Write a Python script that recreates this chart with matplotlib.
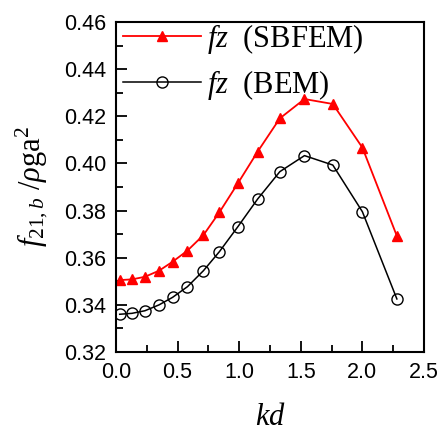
import matplotlib
matplotlib.use("Agg")
import matplotlib.pyplot as plt
from matplotlib.ticker import MultipleLocator, FormatStrFormatter

plt.rcParams['font.family'] = ['Liberation Sans', 'DejaVu Sans']
plt.rcParams['mathtext.fontset'] = 'custom'
plt.rcParams['mathtext.rm'] = 'Liberation Serif'
plt.rcParams['mathtext.it'] = 'Liberation Serif:italic'

kd = [0.03, 0.13, 0.235, 0.35, 0.46, 0.58, 0.71, 0.84, 0.99, 1.15, 1.33, 1.53, 1.76, 2.0, 2.28]
sbfem = [0.3505, 0.3508, 0.3519, 0.3545, 0.3583, 0.363, 0.3696, 0.3793, 0.3916,
         0.405, 0.4191, 0.4273, 0.4252, 0.4067, 0.3692]
bem = [0.336, 0.3364, 0.3375, 0.340, 0.3432, 0.3477, 0.3545, 0.3626, 0.3732,
       0.3849, 0.3965, 0.4033, 0.3993, 0.3795, 0.3425]

fig = plt.figure(figsize=(4.4, 4.32), dpi=100)
ax = fig.add_axes([0.2636, 0.1852, 0.70, 0.764])

ax.plot(kd, sbfem, color='red', marker='^', markersize=7, lw=1.3,
        label=r'$fz$  (SBFEM)')
ax.plot(kd, bem, color='black', marker='o', markersize=8, mfc='none', lw=1.1,
        label=r'$fz$  (BEM)')

ax.set_xlim(0, 2.5)
ax.set_ylim(0.32, 0.46)
ax.xaxis.set_major_locator(MultipleLocator(0.5))
ax.xaxis.set_minor_locator(MultipleLocator(0.25))
ax.yaxis.set_major_locator(MultipleLocator(0.02))
ax.yaxis.set_minor_locator(MultipleLocator(0.01))
ax.yaxis.set_major_formatter(FormatStrFormatter('%.2f'))
ax.xaxis.set_major_formatter(FormatStrFormatter('%.1f'))
ax.tick_params(which='both', direction='in', top=False, right=False,
               labelsize=15.5, width=1.3, pad=7)
ax.tick_params(which='major', length=8)
ax.tick_params(which='minor', length=5)
for s in ax.spines.values():
    s.set_linewidth(1.5)

ax.set_xlabel(r'$kd$', fontsize=22, labelpad=14)
ax.set_ylabel(r'$f_{21,b}\ /\rho\mathrm{ga}^2$', fontsize=22, labelpad=10)

ax.legend(loc='upper left', bbox_to_anchor=(0.023, 1.0), frameon=False,
          handlelength=2.55, borderaxespad=0, borderpad=0, labelspacing=0.4,
          handletextpad=0.2, prop={'family': 'Liberation Serif', 'size': 22})

fig.savefig('out.png', dpi=100)
